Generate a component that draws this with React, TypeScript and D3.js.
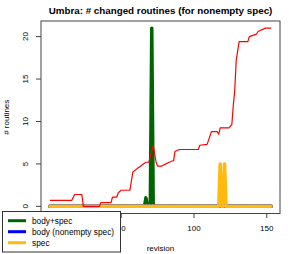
import React from "react";
import * as d3 from "d3";

// series as (revision, value) breakpoints
const redRev = [1, 16, 18, 23, 24, 35, 36, 43, 44, 47, 48, 50, 56, 58, 61, 63, 65, 67, 69, 71, 72, 74, 75, 78, 80, 83, 86, 87, 90, 103, 104, 109, 112, 115, 116, 117, 118, 124, 126, 127, 128, 129, 131, 137, 138, 143, 144, 149, 153];
const redVal = [0.7, 0.7, 1.4, 1.4, 0, 0, 0.45, 0.45, 1.1, 1.1, 1.6, 1.9, 1.9, 4.05, 4.45, 4.7, 4.96, 5.2, 5.2, 6.5, 7.2, 5.2, 4.75, 4.75, 4.95, 5.2, 5.4, 6.5, 6.7, 6.7, 7.2, 7.3, 8.8, 8.8, 8.8, 8.5, 9.25, 9.25, 9.65, 11.9, 13.7, 17.2, 19.4, 19.4, 20.0, 20.3, 20.6, 21, 21];

const bodySpecRev = [1, 66, 67, 68, 70, 71, 72, 153];
const bodySpecVal = [0, 0, 1, 0, 0, 21, 0, 0];

const bodyRev = [1, 153];
const bodyVal = [0, 0];

const specRev = [1, 117, 118, 119, 120, 121, 122, 153];
const specVal = [0, 0, 5, 0, 0, 5, 0, 0];

const xTicks = [0, 50, 100, 150];
const yTicks = [0, 5, 10, 15, 20];

const legendLabels = ["body+spec", "body (nonempty spec)", "spec"];
const legendColors = ["#006400", "#0000ff", "#ffb90f"];

const font = "'Liberation Sans', Arial, Helvetica, sans-serif";

function App() {
  const W = 294, H = 254;
  const left = 41, right = 280, top = 21, bottom = 213.5;

  // R style 4% padding
  const xr = 153 - 1;
  const x = d3.scaleLinear().domain([1 - 0.04 * xr, 153 + 0.04 * xr]).range([left, right]);
  const y = d3.scaleLinear().domain([-0.84, 21.84]).range([bottom, top]);

  const line = d3.line<[number, number]>()
    .x(d => x(d[0]))
    .y(d => y(d[1]));

  const pts = (r: number[], v: number[]) => r.map((d, i) => [d, v[i]] as [number, number]);

  return (
    <svg width={W} height={H} style={{ position: "absolute", left: 0, top: 0, background: "#fff" }}
      fontFamily={font}>
      <rect x={0} y={0} width={W} height={H} fill="#fff" />
      <text x={(left + right) / 2} y={13.5} textAnchor="middle" fontWeight="bold" fontSize={9.8}>
        Umbra: # changed routines (for nonempty spec)
      </text>

      {/* series */}
      <path d={line(pts(bodySpecRev, bodySpecVal)) || ""} fill="none" stroke={legendColors[0]} strokeWidth={3.5} strokeLinejoin="round" strokeLinecap="round" />
      <path d={line(pts(bodyRev, bodyVal)) || ""} fill="none" stroke={legendColors[1]} strokeWidth={3.5} strokeLinecap="round" />
      <path d={line(pts(specRev, specVal)) || ""} fill="none" stroke={legendColors[2]} strokeWidth={3.5} strokeLinejoin="round" strokeLinecap="round" />
      <path d={line(pts(bodyRev, bodyVal)) || ""} fill="none" stroke="#9aa3b0" strokeWidth={0.9} strokeDasharray="1,2" transform="translate(0,-2)" />
      <path d={line(pts(redRev, redVal)) || ""} fill="none" stroke="#ff0000" strokeWidth={1.2} strokeLinejoin="round" />

      {/* box */}
      <rect x={left} y={top} width={right - left} height={bottom - top} fill="none" stroke="#444" strokeWidth={1} />

      {/* y axis */}
      {yTicks.map(t => (
        <g key={"y" + t}>
          <line x1={left} x2={left - 5} y1={y(t)} y2={y(t)} stroke="#444" />
          <text transform={`translate(28,${y(t)}) rotate(-90)`} textAnchor="middle" fontSize={8}>{t}</text>
        </g>
      ))}
      <text transform={`translate(8.5,${(top + bottom) / 2}) rotate(-90)`} textAnchor="middle" fontSize={8}># routines</text>

      {/* x axis */}
      {xTicks.map(t => (
        <g key={"x" + t}>
          <line x1={x(t)} x2={x(t)} y1={bottom} y2={bottom + 4.5} stroke="#444" />
          <text x={x(t)} y={231} textAnchor="middle" fontSize={8}>{t}</text>
        </g>
      ))}
      <text x={(left + right) / 2} y={251} textAnchor="middle" fontSize={8}>revision</text>

      {/* legend */}
      <rect x={2.5} y={211.5} width={118} height={40.5} fill="#fff" stroke="#333" strokeWidth={1} />
      {legendLabels.map((l, i) => (
        <g key={l}>
          <line x1={8} x2={26} y1={220.7 + i * 11} y2={220.7 + i * 11} stroke={legendColors[i]} strokeWidth={3} />
          <text x={32} y={223.7 + i * 11} fontSize={8.3}>{l}</text>
        </g>
      ))}
    </svg>
  );
}

export default App;
